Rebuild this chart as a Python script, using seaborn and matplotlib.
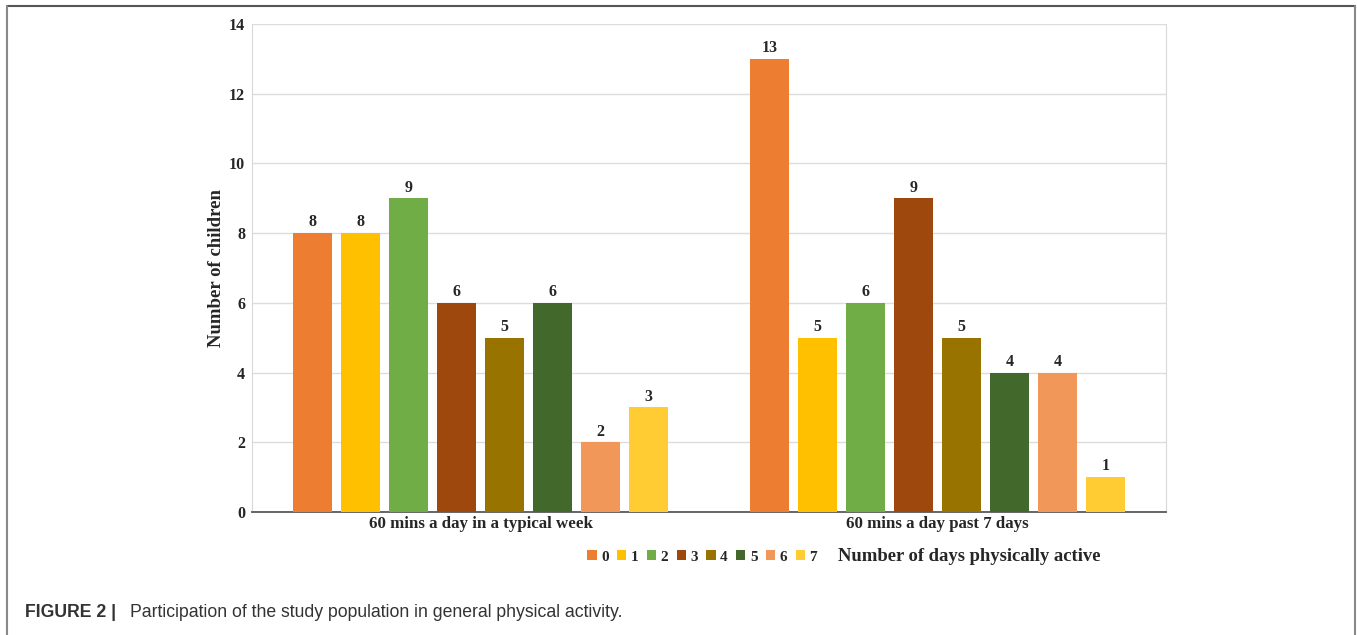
import pandas as pd
import matplotlib.pyplot as plt
import seaborn as sns
from matplotlib.lines import Line2D

# veriler
kategoriler = ["60 mins a day in a typical week", "60 mins a day past 7 days"]
gunler = ["0", "1", "2", "3", "4", "5", "6", "7"]
tipik_hafta = [8, 8, 9, 6, 5, 6, 2, 3]
son_7_gun = [13, 5, 6, 9, 5, 4, 4, 1]
renkler = ["#ED7D31", "#FFC000", "#70AD47", "#9E480E",
           "#997300", "#43682B", "#F1975A", "#FFCD33"]

df = pd.DataFrame({
    "Kategori": [kategoriler[0]] * 8 + [kategoriler[1]] * 8,
    "Gun": gunler * 2,
    "Sayi": tipik_hafta + son_7_gun,
})

sns.set_style("white")
plt.rcParams['font.family'] = ['Liberation Serif', 'DejaVu Serif']

fig = plt.figure(figsize=(13.57, 6.35), dpi=100)
ax = fig.add_axes([0.1857, 0.1937, 0.6736, 0.7685])

sns.barplot(data=df, x="Kategori", y="Sayi", hue="Gun", palette=renkler,
            width=0.84, gap=0.2, ax=ax, legend=True, saturation=1,
            edgecolor="none", zorder=3)

# bar üstü değerler
for c in ax.containers:
    ax.bar_label(c, fmt="%d", padding=2, fontsize=11.5, fontweight="bold")

ax.set_ylim(0, 14)
ax.set_yticks(range(0, 15, 2))
ax.set_xlim(-0.5, 1.5)
ax.grid(axis="y", color="#DDDDDD", lw=1, zorder=0)
ax.set_axisbelow(True)
for s in ["left", "right", "top"]:
    ax.spines[s].set_color("#D9D9D9")
ax.spines["top"].set_visible(False)
ax.spines["bottom"].set_color("#595959")
ax.spines["bottom"].set_linewidth(1.3)
ax.tick_params(axis="both", length=0, labelsize=11.5, pad=5)
for t in ax.get_yticklabels() + ax.get_xticklabels():
    t.set_fontweight("bold")
for t in ax.get_xticklabels():
    t.set_fontsize(12.2)
ax.tick_params(axis="x", pad=3)
ax.set_xlabel("")
ax.set_ylabel("Number of children", fontsize=13.5, fontweight="bold", labelpad=3)

# lejant
handles, labels = ax.get_legend_handles_labels()
ax.get_legend().remove()
fig.legend(handles, labels, loc="center", bbox_to_anchor=(0.5175, 0.123),
           ncol=8, frameon=False, handlelength=0.6, handleheight=0.6,
           handletextpad=0.3, columnspacing=0.55,
           prop={"weight": "bold", "size": 11})
fig.text(0.6175, 0.123, "Number of days physically active", fontsize=13.4,
         fontweight="bold", va="center", ha="left")

# çerçeve
fig.add_artist(Line2D([0.0055, 0.9985], [0.990, 0.990], color="#555555", lw=1.5))
fig.add_artist(Line2D([0.0055, 0.0055], [0.0, 0.990], color="#888888", lw=1.5))
fig.add_artist(Line2D([0.9985, 0.9985], [0.0, 0.990], color="#888888", lw=1.5))

# alt yazı
fig.text(0.0185, 0.036, "FIGURE 2 |", fontsize=12.7, fontweight="bold",
         family="Liberation Sans", color="#333333", va="center")
fig.text(0.0958, 0.036, "Participation of the study population in general physical activity.",
         fontsize=12.7, family="Liberation Sans", color="#333333", va="center")

fig.savefig("out.png", dpi=100)
